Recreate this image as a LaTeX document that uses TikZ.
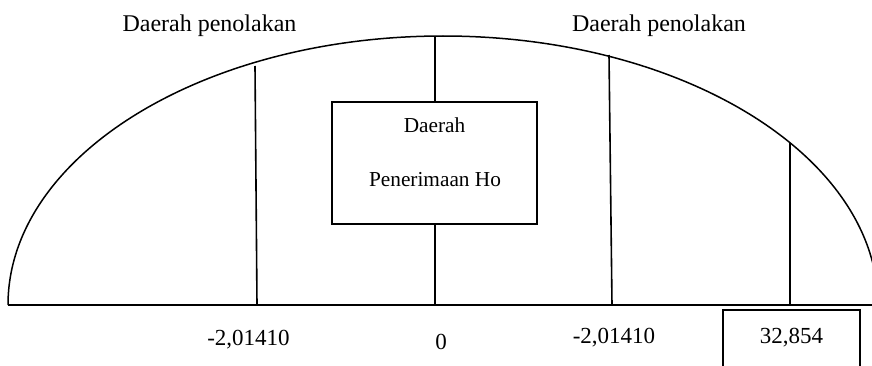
\documentclass[tikz,border=0pt]{standalone}
\usepackage{fontspec}
\setmainfont{Liberation Serif}
\begin{document}
\begin{tikzpicture}[x=1pt,y=1pt,
  curve/.style={line width=1.5pt},
  rule/.style={line width=1.6pt},
  frame/.style={draw,line width=2pt,inner sep=0pt},
  headtxt/.style={font=\fontsize{24}{28}\selectfont,anchor=base,inner sep=0pt},
  bigtxt/.style={font=\fontsize{23}{27}\selectfont,anchor=base,inner sep=0pt},
  boxtxt/.style={font=\fontsize{21.3}{25}\selectfont,anchor=base,inner sep=0pt}]
\useasboundingbox (0,0) rectangle (872,365);
\clip (0,0) rectangle (872,365);

% bell-shaped curve over the horizontal axis
\draw[curve] (8,60) arc[start angle=180,end angle=0,x radius=435pt,y radius=269pt];
\coordinate (axL) at (8,60);
\coordinate (axR) at (880,60);
\draw[rule] (axL) -- (axR);

% acceptance region box on the centre line
\node[frame,minimum width=205pt,minimum height=122pt] (acc) at (434.5,202) {};
\node[boxtxt] (accA) at (434.5,232.7) {Daerah};
\node[boxtxt] (accB) at (435,178.3) {Penerimaan Ho};
\coordinate (cTop) at (435,329);
\coordinate (cBot) at (435,60);
\draw[rule] (cTop) -- (acc.north -| cTop);
\draw[rule] (acc.south -| cBot) -- (cBot);

% critical value lines
\coordinate (lTop) at (255,299);
\coordinate (lBot) at (257,60);
\draw[rule] (lTop) -- (lBot);
\coordinate (rTop) at (609,310);
\coordinate (rBot) at (612,60);
\draw[rule] (rTop) -- (rBot);
\coordinate (tTop) at (790,222);
\coordinate (tBot) at (790,60);
\draw[rule] (tTop) -- (tBot);

% region labels
\node[headtxt] (rejL) at (209.5,333.3) {Daerah penolakan};
\node[headtxt] (rejR) at (659,333.3) {Daerah penolakan};

% axis values
\node[bigtxt] (vL) at (248.5,20) {-2,01410};
\node[bigtxt] (v0) at (441,16) {0};
\node[bigtxt] (vR) at (614,22) {-2,01410};
\node[bigtxt] (vT) at (791.5,22) {32,854};
\coordinate (tbA) at (723,-10);
\coordinate (tbB) at (723,55);
\coordinate (tbC) at (860,55);
\coordinate (tbD) at (860,-10);
\draw[line width=2pt] (tbA) -- (tbB) -- (tbC) -- (tbD);
\end{tikzpicture}
\end{document}
